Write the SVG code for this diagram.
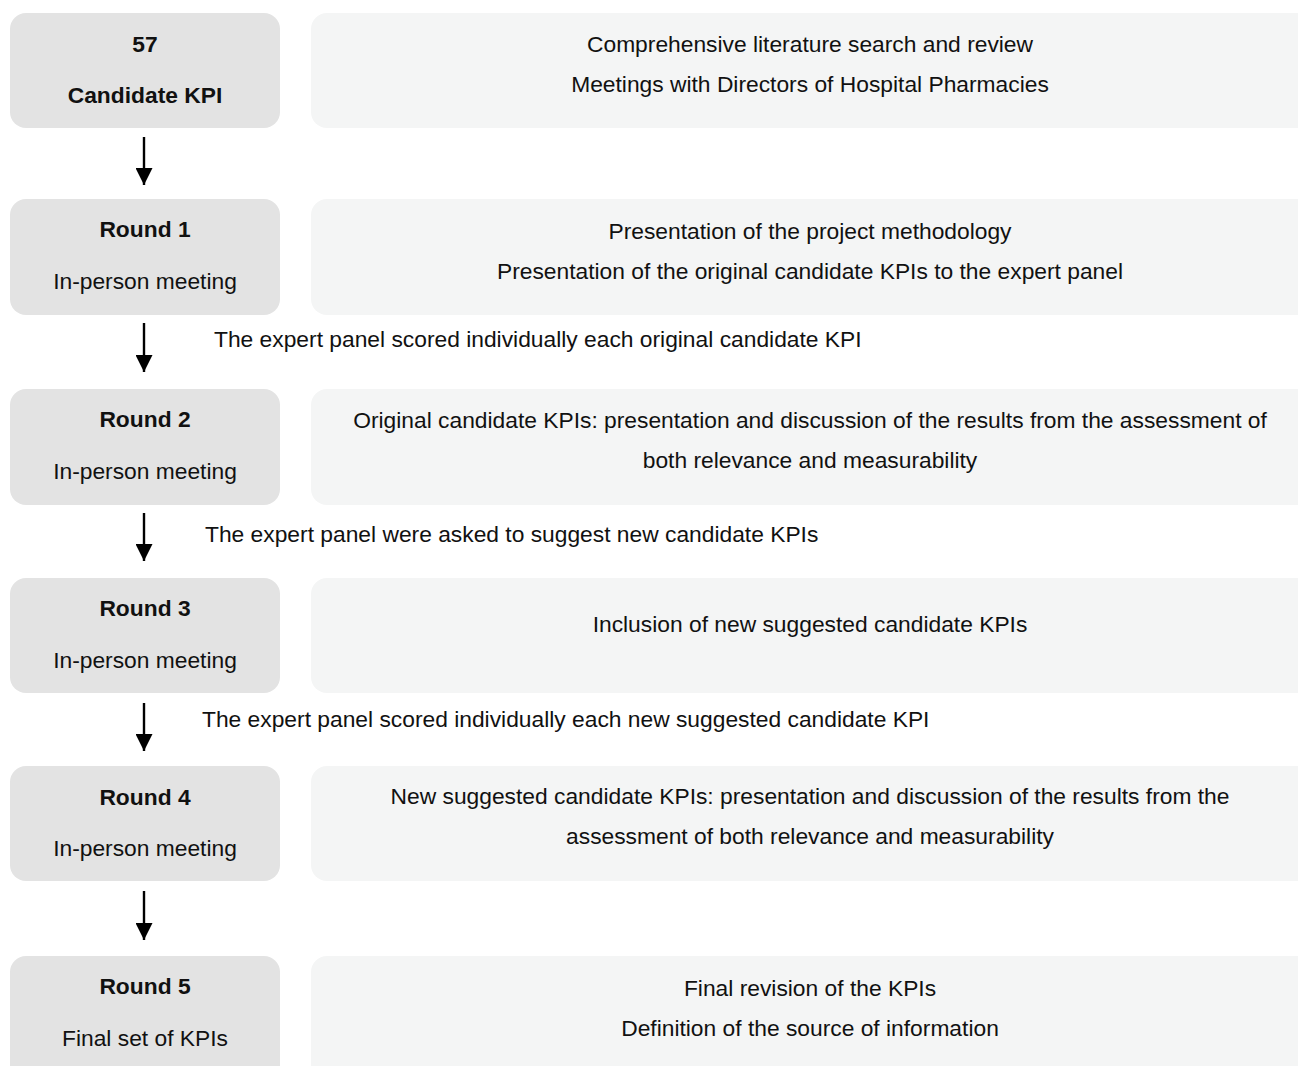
<svg xmlns="http://www.w3.org/2000/svg" width="1298" height="1066" viewBox="0 0 1298 1066">
<style>
.l{fill:#e3e3e3}
.r{fill:#f4f5f5}
text{font-family:"Liberation Sans",Arial,sans-serif;font-size:22.8px;fill:#111;dominant-baseline:central}
.c{text-anchor:middle}
.b{font-weight:bold}
.a{stroke:#000;stroke-width:2.4;fill:none}
</style>
<defs>
<marker id="ah" markerWidth="17" markerHeight="17" refX="17" refY="8.5" orient="auto" markerUnits="userSpaceOnUse" viewBox="0 0 17 17">
<path d="M0,0 L17,8.5 L0,17 Z" fill="#000"/>
</marker>
</defs>
<rect width="1298" height="1066" fill="#fff"/>
<g id="n0"><rect class="l" x="10" y="13" width="270" height="115" rx="16"/><text class="c b" x="145" y="44">57</text><text class="c b" x="145" y="95">Candidate KPI</text></g>
<g id="d0"><rect class="r" x="311" y="13" width="1002" height="115" rx="16"/><text class="c" x="810" y="44">Comprehensive literature search and review</text><text class="c" x="810" y="84">Meetings with Directors of Hospital Pharmacies</text></g>
<g id="n1"><rect class="l" x="10" y="199" width="270" height="116" rx="16"/><text class="c b" x="145" y="229">Round 1</text><text class="c" x="145" y="281">In-person meeting</text></g>
<g id="d1"><rect class="r" x="311" y="199" width="1002" height="116" rx="16"/><text class="c" x="810" y="231">Presentation of the project methodology</text><text class="c" x="810" y="271">Presentation of the original candidate KPIs to the expert panel</text></g>
<g id="n2"><rect class="l" x="10" y="389" width="270" height="116" rx="16"/><text class="c b" x="145" y="419">Round 2</text><text class="c" x="145" y="471">In-person meeting</text></g>
<g id="d2"><rect class="r" x="311" y="389" width="1002" height="116" rx="16"/><text class="c" x="810" y="420">Original candidate KPIs: presentation and discussion of the results from the assessment of</text><text class="c" x="810" y="460">both relevance and measurability</text></g>
<g id="n3"><rect class="l" x="10" y="578" width="270" height="115" rx="16"/><text class="c b" x="145" y="608">Round 3</text><text class="c" x="145" y="660">In-person meeting</text></g>
<g id="d3"><rect class="r" x="311" y="578" width="1002" height="115" rx="16"/><text class="c" x="810" y="624">Inclusion of new suggested candidate KPIs</text></g>
<g id="n4"><rect class="l" x="10" y="766" width="270" height="115" rx="16"/><text class="c b" x="145" y="797">Round 4</text><text class="c" x="145" y="848">In-person meeting</text></g>
<g id="d4"><rect class="r" x="311" y="766" width="1002" height="115" rx="16"/><text class="c" x="810" y="796">New suggested candidate KPIs: presentation and discussion of the results from the</text><text class="c" x="810" y="836">assessment of both relevance and measurability</text></g>
<g id="n5"><rect class="l" x="10" y="956" width="270" height="130" rx="16"/><text class="c b" x="145" y="986">Round 5</text><text class="c" x="145" y="1038">Final set of KPIs</text></g>
<g id="d5"><rect class="r" x="311" y="956" width="1002" height="130" rx="16"/><text class="c" x="810" y="988">Final revision of the KPIs</text><text class="c" x="810" y="1028">Definition of the source of information</text></g>
<g id="connectors">
<line class="a" x1="144" y1="137" x2="144" y2="185" marker-end="url(#ah)"/>
<line class="a" x1="144" y1="323" x2="144" y2="372" marker-end="url(#ah)"/>
<line class="a" x1="144" y1="513" x2="144" y2="561" marker-end="url(#ah)"/>
<line class="a" x1="144" y1="703" x2="144" y2="751" marker-end="url(#ah)"/>
<line class="a" x1="144" y1="891" x2="144" y2="940" marker-end="url(#ah)"/>
<text x="214" y="339">The expert panel scored individually each original candidate KPI</text>
<text x="205" y="534">The expert panel were asked to suggest new candidate KPIs</text>
<text x="202" y="719">The expert panel scored individually each new suggested candidate KPI</text>
</g>
</svg>
